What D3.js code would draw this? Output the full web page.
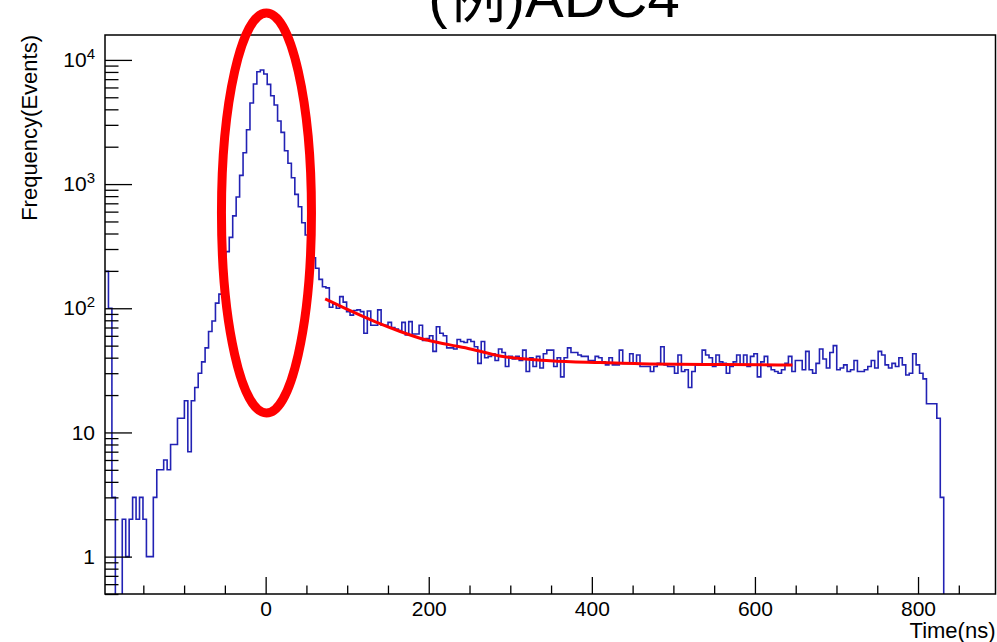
<!DOCTYPE html>
<html><head><meta charset="utf-8">
<script src="https://cdn.jsdelivr.net/npm/d3@7"></script>
<style>
html,body{margin:0;padding:0;background:#fff;}
svg{display:block;}
text{font-family:"Liberation Sans", Arial, Helvetica, "Noto Sans CJK JP", sans-serif; fill:#000;}
</style></head><body>
<svg id="chart" width="997" height="642"></svg>
<script>
// ---------------- data ----------------
const title = "(例)ADC4";
const xTitle = "Time(ns)";
const yTitle = "Frequency(Events)";
const xMin = -197, xMax = 895, nBins = 258;
const yMin = 0.5, yMax = 15870;
const counts = [
198,100,3,0,0,2,1,2,3,2,
3,2,1,1,3,5,5,6,5,8,
8,13,13,18,7,18,23,30,37,48,
65,79,110,130,200,286,372,555,788,1175,
1790,2740,4500,6400,8030,8290,7700,6350,5150,4335,
3222,2610,1858,1470,1125,826,656,488,389,320,
255,210,171,149,146,102,108,100,124,112,
94,88,96,97,94,63,95,73,73,97,
73,73,77,70,68,66,77,61,78,62,
62,73,55,57,60,45,71,63,60,48,
48,47,56,54,53,56,54,49,36,54,
40,41,43,38,47,44,34,41,39,41,
38,46,31,40,34,41,33,43,46,46,
34,40,28,40,48,44,44,42,41,41,
38,38,41,40,37,35,40,35,35,46,
36,36,43,36,42,34,34,34,31,34,
36,49,35,34,34,30,42,31,32,23,
31,35,35,46,42,40,34,42,37,36,
30,34,37,42,35,42,34,41,43,28,
37,41,34,32,31,30,32,36,41,31,
38,38,32,45,32,30,36,47,39,33,
44,50,32,33,35,31,32,38,31,31,
32,34,38,33,45,42,35,33,36,34,
40,35,29,30,43,35,30,27,17,17,
17,13,3,0,0,0,0,0,0,0,
0,0,0,0,0,0,0,0
];
// fit curve
const fitTime  = [73, 103, 134, 165, 195, 226, 251, 287, 349, 410, 471, 560, 646];
const fitValue = [119, 96, 78, 65, 56, 50.7, 47, 41.3, 37.8, 36.5, 35.6, 35.2, 34.9];
const xMajorTicks = [0, 200, 400, 600, 800];
const xMinorStep = 50;
const yMajorTicks = [1, 10, 100, 1000, 10000];
const yTickLabels = ["1", "10", "10^2", "10^3", "10^4"];
const peakMark = {t: 1, v: 585};

// ---------------- layout ----------------
const svg = d3.select("#chart");
const L = 105, R = 995.5, T = 35, B = 594;
const x = d3.scaleLinear().domain([xMin, xMax]).range([L, R]);
const y = d3.scaleLog().domain([yMin, yMax]).range([B, T]);
const binW = (xMax - xMin) / nBins;

svg.append("defs").append("clipPath").attr("id", "frameClip")
  .append("rect").attr("x", L).attr("y", T).attr("width", R - L).attr("height", B - T);

// histogram outline
const pts = counts.map((c, i) => [xMin + i * binW, c > 0 ? c : 0.05]);
pts.push([xMax, counts[counts.length - 1] > 0 ? counts[counts.length - 1] : 0.05]);
const histLine = d3.line().x(d => x(d[0])).y(d => y(d[1])).curve(d3.curveStepAfter);
svg.append("path").attr("clip-path", "url(#frameClip)")
  .attr("d", histLine(pts))
  .attr("fill", "none").attr("stroke", "#2222b4").attr("stroke-width", 1.6);

// fit line
const fitLine = d3.line().x((d, i) => x(fitTime[i])).y((d, i) => y(fitValue[i])).curve(d3.curveMonotoneX);
svg.append("path").attr("d", fitLine(fitTime))
  .attr("fill", "none").attr("stroke", "#ff0000").attr("stroke-width", 3);

// x axis ticks
const xMinor = d3.range(Math.ceil(xMin / xMinorStep) * xMinorStep, xMax, xMinorStep).filter(v => xMajorTicks.indexOf(v) < 0);
const gxm = svg.append("g").attr("transform", `translate(0,${B})`)
  .call(d3.axisBottom(x).tickValues(xMinor).tickSize(-8.5).tickFormat(""));
const gx = svg.append("g").attr("transform", `translate(0,${B})`)
  .call(d3.axisBottom(x).tickValues(xMajorTicks).tickSize(-17).tickPadding(7).tickFormat(d3.format("d")));
[gxm, gx].forEach(g => { g.select(".domain").remove(); g.selectAll("line").attr("stroke", "#000").attr("stroke-width", 1.3); });
gx.selectAll("text").attr("font-size", 21).attr("fill", "#000");

// y axis ticks
const yMinor = [];
for (let e = -1; e <= 4; e++) for (let m = 1; m <= 9; m++) {
  const v = m * Math.pow(10, e);
  if (v >= yMin - 1e-9 && v <= yMax && yMajorTicks.indexOf(v) < 0 && m !== 1) yMinor.push(v);
}
const gym = svg.append("g").attr("transform", `translate(${L},0)`)
  .call(d3.axisLeft(y).tickValues(yMinor).tickSize(-13.5).tickFormat(""));
const gy = svg.append("g").attr("transform", `translate(${L},0)`)
  .call(d3.axisLeft(y).tickValues(yMajorTicks).tickSize(-27).tickPadding(10).tickFormat((d, i) => yTickLabels[i]));
[gym, gy].forEach(g => { g.select(".domain").remove(); g.selectAll("line").attr("stroke", "#000").attr("stroke-width", 1.3); });
gy.selectAll("text").each(function(d, i) {
  const lab = yTickLabels[i];
  const t = d3.select(this).attr("font-size", 21).attr("fill", "#000").text(null);
  if (lab.indexOf("^") >= 0) {
    const [base, sup] = lab.split("^");
    t.append("tspan").text(base);
    t.append("tspan").attr("font-size", 15).attr("dy", -8).text(sup);
  } else {
    t.text(lab);
  }
});

// frame
svg.append("rect").attr("x", L).attr("y", T).attr("width", R - L).attr("height", B - T)
  .attr("fill", "none").attr("stroke", "#000").attr("stroke-width", 1.5);

// axis titles
svg.append("text").attr("x", R).attr("y", 638).attr("text-anchor", "end")
  .attr("font-size", 22).text(xTitle);
svg.append("text").attr("transform", `translate(37,${T}) rotate(-90)`).attr("text-anchor", "end")
  .attr("font-size", 22).text(yTitle);

// title (cut off at the top as in the original)
svg.append("text").attr("x", 554).attr("y", 17).attr("text-anchor", "middle")
  .attr("font-size", 58).text(title);

// red annotation ellipse around the peak
svg.append("ellipse").attr("cx", x(peakMark.t)).attr("cy", y(peakMark.v))
  .attr("rx", 45).attr("ry", 200)
  .attr("fill", "none").attr("stroke", "#ff0000").attr("stroke-width", 9);
</script>
</body></html>
